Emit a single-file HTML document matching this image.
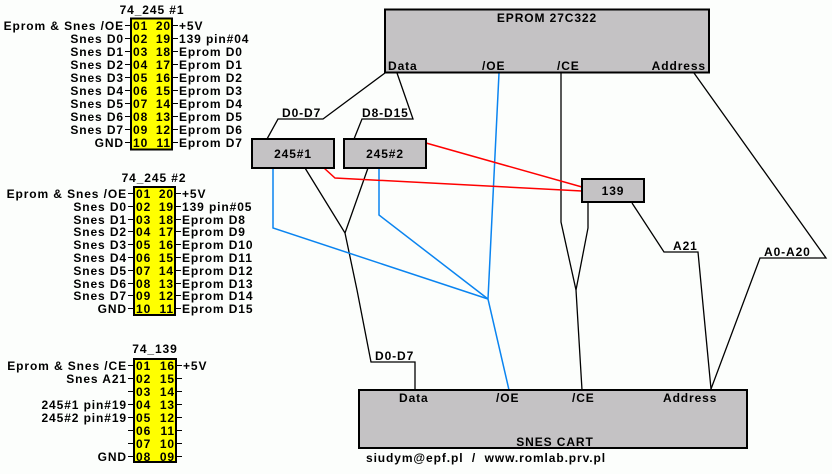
<!DOCTYPE html>
<html><head><meta charset="utf-8"><style>
html,body{margin:0;padding:0;background:#fcfefc;}
svg{display:block;}
text{font-family:"Liberation Sans",sans-serif;font-weight:bold;font-size:12px;fill:#000;letter-spacing:0.9px;}
.r{text-anchor:end;}
.m{text-anchor:middle;}
</style></head><body>
<svg width="832" height="474" viewBox="0 0 832 474" xmlns="http://www.w3.org/2000/svg">
<rect width="832" height="474" fill="#fcfefc"/>

<!-- Chip 1 -->
<text class="m" x="152" y="14">74_245 #1</text>
<rect x="131" y="18.5" width="41" height="131" fill="#ffff00" stroke="#000" stroke-width="2"/>
<g stroke="#000" stroke-width="1">
<path d="M125 25.5h6M125 38.5h6M125 51.5h6M125 64.5h6M125 77.5h6M125 90.5h6M125 103.5h6M125 116.5h6M125 129.5h6M125 142.5h6"/>
<path d="M172 25.5h6M172 38.5h6M172 51.5h6M172 64.5h6M172 77.5h6M172 90.5h6M172 103.5h6M172 116.5h6M172 129.5h6M172 142.5h6"/>
</g>
<g>
<text class="r" x="124" y="30">Eprom &amp; Snes /OE</text><text x="133" y="30">01</text><text class="r" x="171" y="30">20</text><text x="179" y="30">+5V</text>
<text class="r" x="124" y="43">Snes D0</text><text x="133" y="43">02</text><text class="r" x="171" y="43">19</text><text x="179" y="43">139 pin#04</text>
<text class="r" x="124" y="56">Snes D1</text><text x="133" y="56">03</text><text class="r" x="171" y="56">18</text><text x="179" y="56">Eprom D0</text>
<text class="r" x="124" y="69">Snes D2</text><text x="133" y="69">04</text><text class="r" x="171" y="69">17</text><text x="179" y="69">Eprom D1</text>
<text class="r" x="124" y="82">Snes D3</text><text x="133" y="82">05</text><text class="r" x="171" y="82">16</text><text x="179" y="82">Eprom D2</text>
<text class="r" x="124" y="95">Snes D4</text><text x="133" y="95">06</text><text class="r" x="171" y="95">15</text><text x="179" y="95">Eprom D3</text>
<text class="r" x="124" y="108">Snes D5</text><text x="133" y="108">07</text><text class="r" x="171" y="108">14</text><text x="179" y="108">Eprom D4</text>
<text class="r" x="124" y="121">Snes D6</text><text x="133" y="121">08</text><text class="r" x="171" y="121">13</text><text x="179" y="121">Eprom D5</text>
<text class="r" x="124" y="134">Snes D7</text><text x="133" y="134">09</text><text class="r" x="171" y="134">12</text><text x="179" y="134">Eprom D6</text>
<text class="r" x="124" y="147">GND</text><text x="133" y="147">10</text><text class="r" x="171" y="147">11</text><text x="179" y="147">Eprom D7</text>
</g>

<!-- Chip 2 -->
<text class="m" x="154" y="182">74_245 #2</text>
<rect x="134" y="187" width="41" height="128" fill="#ffff00" stroke="#000" stroke-width="2"/>
<g stroke="#000" stroke-width="1">
<path d="M128 193.5h6M128 206.5h6M128 219.5h6M128 231.5h6M128 244.5h6M128 257.5h6M128 270.5h6M128 283.5h6M128 295.5h6M128 308.5h6"/>
<path d="M175 193.5h6M175 206.5h6M175 219.5h6M175 231.5h6M175 244.5h6M175 257.5h6M175 270.5h6M175 283.5h6M175 295.5h6M175 308.5h6"/>
</g>
<g>
<text class="r" x="127" y="198">Eprom &amp; Snes /OE</text><text x="136" y="198">01</text><text class="r" x="174" y="198">20</text><text x="182" y="198">+5V</text>
<text class="r" x="127" y="211">Snes D0</text><text x="136" y="211">02</text><text class="r" x="174" y="211">19</text><text x="182" y="211">139 pin#05</text>
<text class="r" x="127" y="224">Snes D1</text><text x="136" y="224">03</text><text class="r" x="174" y="224">18</text><text x="182" y="224">Eprom D8</text>
<text class="r" x="127" y="236">Snes D2</text><text x="136" y="236">04</text><text class="r" x="174" y="236">17</text><text x="182" y="236">Eprom D9</text>
<text class="r" x="127" y="249">Snes D3</text><text x="136" y="249">05</text><text class="r" x="174" y="249">16</text><text x="182" y="249">Eprom D10</text>
<text class="r" x="127" y="262">Snes D4</text><text x="136" y="262">06</text><text class="r" x="174" y="262">15</text><text x="182" y="262">Eprom D11</text>
<text class="r" x="127" y="275">Snes D5</text><text x="136" y="275">07</text><text class="r" x="174" y="275">14</text><text x="182" y="275">Eprom D12</text>
<text class="r" x="127" y="288">Snes D6</text><text x="136" y="288">08</text><text class="r" x="174" y="288">13</text><text x="182" y="288">Eprom D13</text>
<text class="r" x="127" y="300">Snes D7</text><text x="136" y="300">09</text><text class="r" x="174" y="300">12</text><text x="182" y="300">Eprom D14</text>
<text class="r" x="127" y="313">GND</text><text x="136" y="313">10</text><text class="r" x="174" y="313">11</text><text x="182" y="313">Eprom D15</text>
</g>

<!-- Chip 3 -->
<text class="m" x="155" y="353">74_139</text>
<rect x="134" y="359" width="42" height="103" fill="#ffff00" stroke="#000" stroke-width="2"/>
<g stroke="#000" stroke-width="1">
<path d="M128 365.5h6M128 378.5h6M128 391.5h6M128 404.5h6M128 417.5h6M128 430.5h6M128 443.5h6M128 456.5h6"/>
<path d="M176 365.5h6M176 378.5h6M176 391.5h6M176 404.5h6M176 417.5h6M176 430.5h6M176 443.5h6M176 456.5h6"/>
</g>
<g>
<text class="r" x="127" y="370">Eprom &amp; Snes /CE</text><text x="136" y="370">01</text><text class="r" x="175" y="370">16</text><text x="183" y="370">+5V</text>
<text class="r" x="127" y="383">Snes A21</text><text x="136" y="383">02</text><text class="r" x="175" y="383">15</text>
<text x="136" y="396">03</text><text class="r" x="175" y="396">14</text>
<text class="r" x="127" y="409">245#1 pin#19</text><text x="136" y="409">04</text><text class="r" x="175" y="409">13</text>
<text class="r" x="127" y="422">245#2 pin#19</text><text x="136" y="422">05</text><text class="r" x="175" y="422">12</text>
<text x="136" y="435">06</text><text class="r" x="175" y="435">11</text>
<text x="136" y="448">07</text><text class="r" x="175" y="448">10</text>
<text class="r" x="127" y="461">GND</text><text x="136" y="461">08</text><text class="r" x="175" y="461">09</text>
</g>

<!-- Wires black -->
<g fill="none" stroke="#000" stroke-width="1.3">
<path d="M385 73 L323 119 H278 L267 139"/>
<path d="M397 73 L413 119 H362 L354 139"/>
<path d="M305 168 L345 233 L368 168"/>
<path d="M345 233 L357 290 L371 362 H415 V390"/>
<path d="M561 73 V222 L576 290 L582 390"/>
<path d="M588 202 V228 L576 290"/>
<path d="M632 203 L664 252 H698 L711 389"/>
<path d="M694 73 L826 258 H760 L711 389"/>
</g>
<!-- Blue -->
<g fill="none" stroke="#0a84f0" stroke-width="1.5">
<path d="M499 73 L488 299 L509 390"/>
<path d="M273 168 V228 L488 299"/>
<path d="M379 168 V215 L488 299"/>
</g>
<!-- Red -->
<g fill="none" stroke="#f00" stroke-width="1.5">
<path d="M426 143 L582 187"/>
<path d="M324 168 L335 178 L582 191"/>
</g>

<!-- wire labels -->
<text x="282" y="117">D0-D7</text>
<text x="362" y="117">D8-D15</text>
<text x="375" y="360">D0-D7</text>
<text x="673" y="250">A21</text>
<text x="764" y="256">A0-A20</text>

<!-- EPROM -->
<rect x="385" y="9.5" width="324" height="63" fill="#c4c2c4" stroke="#000" stroke-width="2"/>
<text class="m" x="547" y="22">EPROM 27C322</text>
<text x="388" y="70">Data</text>
<text x="482" y="70">/OE</text>
<text x="557" y="70">/CE</text>
<text class="r" x="706" y="70">Address</text>

<!-- 245 boxes -->
<rect x="252" y="139" width="82" height="29" fill="#c4c2c4" stroke="#000" stroke-width="2"/>
<text class="m" x="293" y="158">245#1</text>
<rect x="344" y="139" width="82" height="29" fill="#c4c2c4" stroke="#000" stroke-width="2"/>
<text class="m" x="385" y="158">245#2</text>
<rect x="582" y="179" width="62" height="23" fill="#c4c2c4" stroke="#000" stroke-width="2"/>
<text class="m" x="613" y="195">139</text>

<!-- SNES CART -->
<rect x="359" y="390" width="388" height="58" fill="#c4c2c4" stroke="#000" stroke-width="2"/>
<text x="399" y="402">Data</text>
<text x="496" y="402">/OE</text>
<text x="572" y="402">/CE</text>
<text x="663" y="402">Address</text>
<text class="m" x="555" y="446">SNES CART</text>

<text x="366" y="462" textLength="240" lengthAdjust="spacing" xml:space="preserve">siudym@epf.pl  /  www.romlab.prv.pl</text>
</svg>
</body></html>
